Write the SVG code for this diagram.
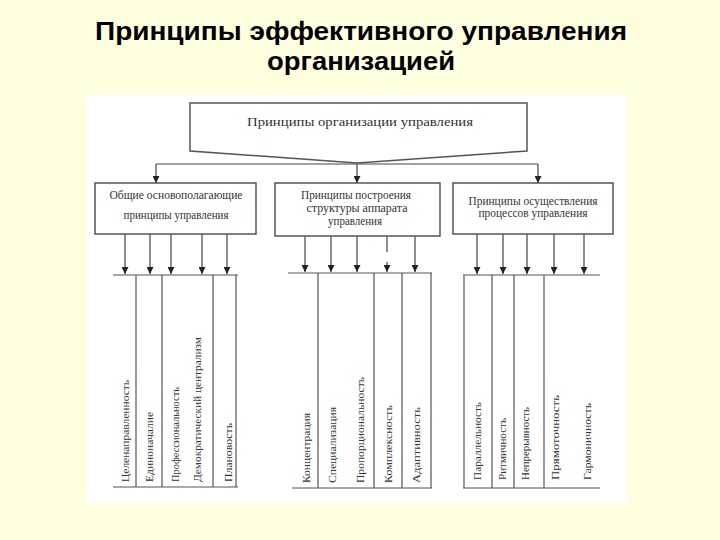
<svg xmlns="http://www.w3.org/2000/svg" width="720" height="540" viewBox="0 0 720 540">
<defs>
<marker id="ah" markerUnits="userSpaceOnUse" markerWidth="7" markerHeight="7" refX="7" refY="3.5" orient="auto">
<path d="M0,0 L7,3.5 L0,7 z" fill="#222"/>
</marker>
<style>
.title{font-family:"Liberation Sans",Arial,sans-serif;font-weight:bold;font-size:25px;fill:#000;text-anchor:middle}
.bx{fill:#fff;stroke:#555;stroke-width:1.5}
.bt{font-family:"Liberation Serif","Times New Roman",serif;font-size:11.5px;fill:#333;text-anchor:middle}
.vt{font-family:"Liberation Serif","Times New Roman",serif;font-size:10.5px;fill:#333}
.ln{stroke:#444;stroke-width:1.2;fill:none}
.ar{stroke:#444;stroke-width:1.2;fill:none;marker-end:url(#ah)}
.col{stroke:#555;stroke-width:1.2;fill:none}
</style>
</defs>
<rect x="0" y="0" width="720" height="540" fill="#FFFFE0"/>
<text class="title" x="361" y="40" textLength="532" lengthAdjust="spacingAndGlyphs">Принципы эффективного управления</text>
<text class="title" x="361" y="70" textLength="188" lengthAdjust="spacingAndGlyphs">организацией</text>
<rect x="86" y="95" width="541" height="408" fill="#fff"/>

<g id="connectors">
<polyline class="ln" points="156,164 538,164"/>
<line class="ar" x1="156" y1="164" x2="156" y2="183"/>
<line class="ar" x1="357" y1="164" x2="357" y2="183"/>
<line class="ar" x1="538" y1="164" x2="538" y2="183"/>
<line class="ar" x1="125" y1="234" x2="125" y2="274"/>
<line class="ar" x1="150" y1="234" x2="150" y2="274"/>
<line class="ar" x1="171" y1="234" x2="171" y2="274"/>
<line class="ar" x1="202" y1="234" x2="202" y2="274"/>
<line class="ar" x1="227" y1="234" x2="227" y2="274"/>
<line class="ar" x1="305" y1="236" x2="305" y2="272"/>
<line class="ar" x1="331" y1="236" x2="331" y2="272"/>
<line class="ar" x1="357" y1="236" x2="357" y2="272"/>
<line class="ln" x1="387" y1="236" x2="387" y2="252"/>
<line class="ar" x1="387" y1="262" x2="387" y2="272"/>
<line class="ar" x1="415" y1="236" x2="415" y2="272"/>
<line class="ar" x1="477" y1="234" x2="477" y2="274"/>
<line class="ar" x1="503" y1="234" x2="503" y2="274"/>
<line class="ar" x1="527" y1="234" x2="527" y2="274"/>
<line class="ar" x1="554" y1="234" x2="554" y2="274"/>
<line class="ar" x1="584" y1="234" x2="584" y2="274"/>
<line class="col" x1="113" y1="275" x2="238" y2="275"/>
<line class="col" x1="288" y1="273" x2="432" y2="273"/>
<line class="col" x1="463" y1="275" x2="600" y2="275"/>
<line class="col" x1="113" y1="487" x2="238" y2="487"/>
<line class="col" x1="292" y1="488" x2="432" y2="488"/>
<line class="col" x1="463" y1="488" x2="600" y2="488"/>
<line class="col" x1="136" y1="275" x2="136" y2="487"/>
<line class="col" x1="162" y1="275" x2="162" y2="487"/>
<line class="col" x1="213" y1="275" x2="213" y2="487"/>
<line class="col" x1="236" y1="275" x2="236" y2="487"/>
<line class="col" x1="318" y1="273" x2="318" y2="488"/>
<line class="col" x1="374" y1="273" x2="374" y2="488"/>
<line class="col" x1="402" y1="273" x2="402" y2="488"/>
<line class="col" x1="431" y1="273" x2="431" y2="488"/>
<line class="col" x1="464" y1="275" x2="464" y2="488"/>
<line class="col" x1="492" y1="275" x2="492" y2="488"/>
<line class="col" x1="514" y1="275" x2="514" y2="488"/>
<line class="col" x1="544" y1="275" x2="544" y2="488"/>
</g>

<g id="root">
<polygon class="bx" points="190,103 527,103 527,151 357,163 190,151"/>
<text class="bt" x="360" y="126" textLength="226" lengthAdjust="spacingAndGlyphs">Принципы организации управления</text>
</g>

<g id="box1">
<rect class="bx" x="95" y="183" width="161" height="51"/>
<text class="bt" x="176" y="199" textLength="133" lengthAdjust="spacingAndGlyphs">Общие основополагающие</text>
<text class="bt" x="176" y="219" textLength="105" lengthAdjust="spacingAndGlyphs">принципы управления</text>
</g>
<g id="box2">
<rect class="bx" x="275" y="183" width="165" height="53"/>
<text class="bt" x="356" y="199" textLength="110" lengthAdjust="spacingAndGlyphs">Принципы построения</text>
<text class="bt" x="357" y="212" textLength="101" lengthAdjust="spacingAndGlyphs">структуры аппарата</text>
<text class="bt" x="355" y="225" textLength="54" lengthAdjust="spacingAndGlyphs">управления</text>
</g>
<g id="box3">
<rect class="bx" x="453" y="183" width="160" height="51"/>
<text class="bt" x="533" y="205" textLength="129" lengthAdjust="spacingAndGlyphs">Принципы осуществления</text>
<text class="bt" x="533" y="217" textLength="109" lengthAdjust="spacingAndGlyphs">процессов управления</text>
</g>

<g id="g1-1"><text class="vt" transform="translate(129,482) rotate(-90)" textLength="102" lengthAdjust="spacingAndGlyphs">Целенаправленность</text></g>
<g id="g1-2"><text class="vt" transform="translate(153,482) rotate(-90)" textLength="70" lengthAdjust="spacingAndGlyphs">Единоначалие</text></g>
<g id="g1-3"><text class="vt" transform="translate(179,482) rotate(-90)" textLength="95" lengthAdjust="spacingAndGlyphs">Профессиональность</text></g>
<g id="g1-4"><text class="vt" transform="translate(201,482) rotate(-90)" textLength="145" lengthAdjust="spacingAndGlyphs">Демократический централизм</text></g>
<g id="g1-5"><text class="vt" transform="translate(232,482) rotate(-90)" textLength="59" lengthAdjust="spacingAndGlyphs">Плановость</text></g>

<g id="g2-1"><text class="vt" transform="translate(310,483) rotate(-90)" textLength="70" lengthAdjust="spacingAndGlyphs">Концентрация</text></g>
<g id="g2-2"><text class="vt" transform="translate(336,483) rotate(-90)" textLength="76" lengthAdjust="spacingAndGlyphs">Специализация</text></g>
<g id="g2-3"><text class="vt" transform="translate(364,483) rotate(-90)" textLength="106" lengthAdjust="spacingAndGlyphs">Пропорциональность</text></g>
<g id="g2-4"><text class="vt" transform="translate(392,483) rotate(-90)" textLength="78" lengthAdjust="spacingAndGlyphs">Комплексность</text></g>
<g id="g2-5"><text class="vt" transform="translate(420,483) rotate(-90)" textLength="76" lengthAdjust="spacingAndGlyphs">Адаптивность</text></g>

<g id="g3-1"><text class="vt" transform="translate(481,480) rotate(-90)" textLength="78" lengthAdjust="spacingAndGlyphs">Параллельность</text></g>
<g id="g3-2"><text class="vt" transform="translate(506,480) rotate(-90)" textLength="62" lengthAdjust="spacingAndGlyphs">Ритмичность</text></g>
<g id="g3-3"><text class="vt" transform="translate(529,480) rotate(-90)" textLength="73" lengthAdjust="spacingAndGlyphs">Непрерывность</text></g>
<g id="g3-4"><text class="vt" transform="translate(559,480) rotate(-90)" textLength="85" lengthAdjust="spacingAndGlyphs">Прямоточность</text></g>
<g id="g3-5"><text class="vt" transform="translate(591,480) rotate(-90)" textLength="77" lengthAdjust="spacingAndGlyphs">Гармоничность</text></g>
</svg>
